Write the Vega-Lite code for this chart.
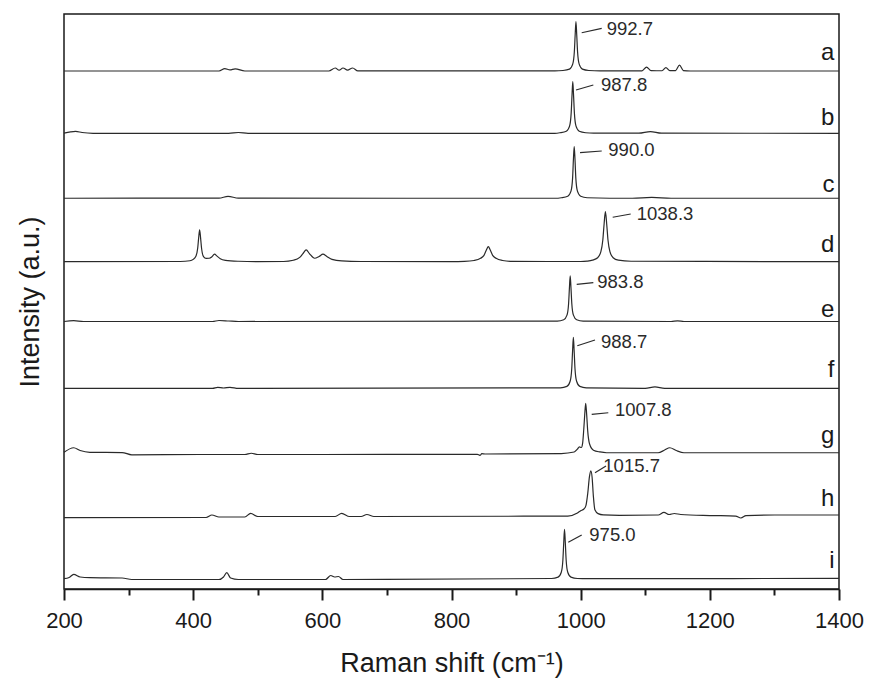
{
  "$schema": "https://vega.github.io/schema/vega-lite/v6.json",
  "width": 775,
  "height": 575,
  "autosize": "none",
  "padding": {"left": 64, "top": 14, "right": 30, "bottom": 93},
  "background": "white",
  "config": {
    "view": {"stroke": "#1a1a1a", "strokeWidth": 1.5},
    "font": "Liberation Sans"
  },
  "datasets": {
    "spectra": [
      {"sample":"a","shift":200,"intensity":10.8},{"sample":"a","shift":440,"intensity":10.8},{"sample":"a","shift":449,"intensity":14.5},{"sample":"a","shift":457,"intensity":12.5},{"sample":"a","shift":465,"intensity":14.2},{"sample":"a","shift":480,"intensity":10.8},{"sample":"a","shift":610,"intensity":10.8},{"sample":"a","shift":620,"intensity":15.5},{"sample":"a","shift":626,"intensity":12},{"sample":"a","shift":632,"intensity":15.5},{"sample":"a","shift":639,"intensity":12},{"sample":"a","shift":647,"intensity":15.5},{"sample":"a","shift":655,"intensity":11},{"sample":"a","shift":960,"intensity":11},{"sample":"a","shift":972.7,"intensity":11.6},{"sample":"a","shift":982.7,"intensity":13.7},{"sample":"a","shift":987.7,"intensity":21.5},{"sample":"a","shift":990.2,"intensity":40.9},{"sample":"a","shift":991.5,"intensity":67.5},{"sample":"a","shift":992.7,"intensity":88},{"sample":"a","shift":993.9,"intensity":67.5},{"sample":"a","shift":995.2,"intensity":40.9},{"sample":"a","shift":997.7,"intensity":21.5},{"sample":"a","shift":1002.7,"intensity":13.7},{"sample":"a","shift":1012.7,"intensity":11.6},{"sample":"a","shift":1030,"intensity":11},{"sample":"a","shift":1095,"intensity":11},{"sample":"a","shift":1102,"intensity":17},{"sample":"a","shift":1109,"intensity":11.5},{"sample":"a","shift":1126,"intensity":11.2},{"sample":"a","shift":1132,"intensity":16},{"sample":"a","shift":1138,"intensity":11.3},{"sample":"a","shift":1147,"intensity":11.5},{"sample":"a","shift":1153,"intensity":20},{"sample":"a","shift":1159,"intensity":11.5},{"sample":"a","shift":1170,"intensity":10.8},{"sample":"a","shift":1400,"intensity":10.8},
      {"sample":"b","shift":200,"intensity":13.5},{"sample":"b","shift":210,"intensity":15.5},{"sample":"b","shift":218,"intensity":16.3},{"sample":"b","shift":228,"intensity":14.5},{"sample":"b","shift":245,"intensity":13.3},{"sample":"b","shift":455,"intensity":13.3},{"sample":"b","shift":470,"intensity":14.5},{"sample":"b","shift":485,"intensity":13.3},{"sample":"b","shift":960,"intensity":13.3},{"sample":"b","shift":967.8,"intensity":14.1},{"sample":"b","shift":977.8,"intensity":16.4},{"sample":"b","shift":982.8,"intensity":24.4},{"sample":"b","shift":985.3,"intensity":44.8},{"sample":"b","shift":986.6,"intensity":72.6},{"sample":"b","shift":987.8,"intensity":94},{"sample":"b","shift":989,"intensity":72.6},{"sample":"b","shift":990.3,"intensity":44.8},{"sample":"b","shift":992.8,"intensity":24.4},{"sample":"b","shift":997.8,"intensity":16.4},{"sample":"b","shift":1007.8,"intensity":14.1},{"sample":"b","shift":1020,"intensity":13.5},{"sample":"b","shift":1090,"intensity":13.4},{"sample":"b","shift":1108,"intensity":16},{"sample":"b","shift":1125,"intensity":13.4},{"sample":"b","shift":1400,"intensity":13.3},
      {"sample":"c","shift":200,"intensity":11.6},{"sample":"c","shift":440,"intensity":11.8},{"sample":"c","shift":454,"intensity":14.5},{"sample":"c","shift":470,"intensity":11.8},{"sample":"c","shift":960,"intensity":11.6},{"sample":"c","shift":970,"intensity":12.4},{"sample":"c","shift":980,"intensity":14.7},{"sample":"c","shift":985,"intensity":22.7},{"sample":"c","shift":987.5,"intensity":43.1},{"sample":"c","shift":988.8,"intensity":72.9},{"sample":"c","shift":990,"intensity":92.3},{"sample":"c","shift":991.2,"intensity":72.9},{"sample":"c","shift":992.5,"intensity":43.1},{"sample":"c","shift":995,"intensity":22.7},{"sample":"c","shift":1000,"intensity":14.7},{"sample":"c","shift":1010,"intensity":12.4},{"sample":"c","shift":1080,"intensity":11.6},{"sample":"c","shift":1110,"intensity":13},{"sample":"c","shift":1140,"intensity":11.6},{"sample":"c","shift":1400,"intensity":11.6},
      {"sample":"d","shift":200,"intensity":12.4},{"sample":"d","shift":380,"intensity":12.6},{"sample":"d","shift":395,"intensity":13.8},{"sample":"d","shift":400,"intensity":15.9},{"sample":"d","shift":404,"intensity":20.3},{"sample":"d","shift":407,"intensity":33.3},{"sample":"d","shift":408.5,"intensity":49.5},{"sample":"d","shift":410,"intensity":62},{"sample":"d","shift":411.5,"intensity":49.5},{"sample":"d","shift":413,"intensity":33.3},{"sample":"d","shift":416,"intensity":20.3},{"sample":"d","shift":420,"intensity":17.5},{"sample":"d","shift":425,"intensity":17.7},{"sample":"d","shift":429,"intensity":20},{"sample":"d","shift":433,"intensity":24},{"sample":"d","shift":437,"intensity":21},{"sample":"d","shift":442,"intensity":17},{"sample":"d","shift":450,"intensity":14.5},{"sample":"d","shift":470,"intensity":13},{"sample":"d","shift":500,"intensity":12.4},{"sample":"d","shift":540,"intensity":12.6},{"sample":"d","shift":555,"intensity":14.5},{"sample":"d","shift":565,"intensity":19},{"sample":"d","shift":570,"intensity":25},{"sample":"d","shift":575,"intensity":30.7},{"sample":"d","shift":580,"intensity":25},{"sample":"d","shift":588,"intensity":17.7},{"sample":"d","shift":595,"intensity":20.5},{"sample":"d","shift":601,"intensity":24},{"sample":"d","shift":607,"intensity":20.5},{"sample":"d","shift":615,"intensity":16},{"sample":"d","shift":630,"intensity":13.5},{"sample":"d","shift":660,"intensity":12.6},{"sample":"d","shift":800,"intensity":12.4},{"sample":"d","shift":820,"intensity":12.8},{"sample":"d","shift":835,"intensity":14.2},{"sample":"d","shift":845,"intensity":17.6},{"sample":"d","shift":850,"intensity":21.9},{"sample":"d","shift":854,"intensity":30.5},{"sample":"d","shift":857,"intensity":35.8},{"sample":"d","shift":860,"intensity":30.5},{"sample":"d","shift":864,"intensity":21.9},{"sample":"d","shift":869,"intensity":17.6},{"sample":"d","shift":879,"intensity":14.2},{"sample":"d","shift":894,"intensity":12.8},{"sample":"d","shift":1000,"intensity":12.6},{"sample":"d","shift":1010,"intensity":13.2},{"sample":"d","shift":1018.3,"intensity":14.7},{"sample":"d","shift":1026.3,"intensity":18.5},{"sample":"d","shift":1031.3,"intensity":28},{"sample":"d","shift":1034.3,"intensity":46.3},{"sample":"d","shift":1036.3,"intensity":71.4},{"sample":"d","shift":1038.3,"intensity":90.6},{"sample":"d","shift":1040.3,"intensity":71.4},{"sample":"d","shift":1042.3,"intensity":46.3},{"sample":"d","shift":1045.3,"intensity":28},{"sample":"d","shift":1050.3,"intensity":18.5},{"sample":"d","shift":1058.3,"intensity":14.7},{"sample":"d","shift":1078,"intensity":13},{"sample":"d","shift":1400,"intensity":12.4},
      {"sample":"e","shift":200,"intensity":18.7},{"sample":"e","shift":215,"intensity":20},{"sample":"e","shift":230,"intensity":18.7},{"sample":"e","shift":430,"intensity":18.7},{"sample":"e","shift":440,"intensity":20.3},{"sample":"e","shift":455,"intensity":19.5},{"sample":"e","shift":470,"intensity":18.7},{"sample":"e","shift":963.8,"intensity":19.4},{"sample":"e","shift":973.8,"intensity":21.4},{"sample":"e","shift":978.8,"intensity":28.6},{"sample":"e","shift":981.3,"intensity":46.6},{"sample":"e","shift":982.6,"intensity":71.3},{"sample":"e","shift":983.8,"intensity":90.3},{"sample":"e","shift":985,"intensity":71.3},{"sample":"e","shift":986.3,"intensity":46.6},{"sample":"e","shift":988.8,"intensity":28.6},{"sample":"e","shift":993.8,"intensity":21.4},{"sample":"e","shift":1003.8,"intensity":19.4},{"sample":"e","shift":1140,"intensity":18.7},{"sample":"e","shift":1150,"intensity":19.7},{"sample":"e","shift":1160,"intensity":18.7},{"sample":"e","shift":1400,"intensity":18.7},
      {"sample":"f","shift":200,"intensity":14.1},{"sample":"f","shift":430,"intensity":14.1},{"sample":"f","shift":438,"intensity":15.7},{"sample":"f","shift":447,"intensity":14.6},{"sample":"f","shift":457,"intensity":15.7},{"sample":"f","shift":470,"intensity":14.1},{"sample":"f","shift":968.7,"intensity":14.9},{"sample":"f","shift":978.7,"intensity":17.1},{"sample":"f","shift":983.7,"intensity":25.1},{"sample":"f","shift":986.2,"intensity":45.2},{"sample":"f","shift":987.5,"intensity":72.8},{"sample":"f","shift":988.7,"intensity":93.9},{"sample":"f","shift":989.9,"intensity":72.8},{"sample":"f","shift":991.2,"intensity":45.2},{"sample":"f","shift":993.7,"intensity":25.1},{"sample":"f","shift":998.7,"intensity":17.1},{"sample":"f","shift":1008.7,"intensity":14.9},{"sample":"f","shift":1100,"intensity":14.1},{"sample":"f","shift":1115,"intensity":16.5},{"sample":"f","shift":1130,"intensity":14.1},{"sample":"f","shift":1400,"intensity":14.1},
      {"sample":"g","shift":200,"intensity":13.9},{"sample":"g","shift":215,"intensity":21.1},{"sample":"g","shift":225,"intensity":16.7},{"sample":"g","shift":240,"intensity":13.9},{"sample":"g","shift":290,"intensity":13.6},{"sample":"g","shift":305,"intensity":10},{"sample":"g","shift":410,"intensity":10.5},{"sample":"g","shift":480,"intensity":10.5},{"sample":"g","shift":490,"intensity":12.5},{"sample":"g","shift":500,"intensity":10.5},{"sample":"g","shift":600,"intensity":10.5},{"sample":"g","shift":800,"intensity":10.8},{"sample":"g","shift":840,"intensity":10.8},{"sample":"g","shift":844,"intensity":9.2},{"sample":"g","shift":847,"intensity":11.8},{"sample":"g","shift":852,"intensity":11.3},{"sample":"g","shift":970,"intensity":12},{"sample":"g","shift":990,"intensity":14.4},{"sample":"g","shift":995,"intensity":19},{"sample":"g","shift":998,"intensity":22.5},{"sample":"g","shift":1001,"intensity":21.5},{"sample":"g","shift":1003,"intensity":28},{"sample":"g","shift":1004.8,"intensity":50},{"sample":"g","shift":1006.3,"intensity":73},{"sample":"g","shift":1007.8,"intensity":90.6},{"sample":"g","shift":1009.3,"intensity":73},{"sample":"g","shift":1010.8,"intensity":48.7},{"sample":"g","shift":1013.8,"intensity":27},{"sample":"g","shift":1019.8,"intensity":17.3},{"sample":"g","shift":1030,"intensity":14.5},{"sample":"g","shift":1040,"intensity":13.3},{"sample":"g","shift":1120,"intensity":13.3},{"sample":"g","shift":1130,"intensity":17.5},{"sample":"g","shift":1138,"intensity":21.1},{"sample":"g","shift":1148,"intensity":16.7},{"sample":"g","shift":1160,"intensity":13.3},{"sample":"g","shift":1400,"intensity":13.3},
      {"sample":"h","shift":200,"intensity":11.6},{"sample":"h","shift":420,"intensity":11.9},{"sample":"h","shift":429,"intensity":15.8},{"sample":"h","shift":440,"intensity":12.7},{"sample":"h","shift":480,"intensity":12.7},{"sample":"h","shift":489,"intensity":18.5},{"sample":"h","shift":500,"intensity":13.5},{"sample":"h","shift":620,"intensity":13.5},{"sample":"h","shift":630,"intensity":18.5},{"sample":"h","shift":642,"intensity":13.5},{"sample":"h","shift":660,"intensity":13.5},{"sample":"h","shift":669,"intensity":16.6},{"sample":"h","shift":680,"intensity":13.5},{"sample":"h","shift":980,"intensity":14.2},{"sample":"h","shift":995,"intensity":19},{"sample":"h","shift":1000,"intensity":22.5},{"sample":"h","shift":1005,"intensity":25.2},{"sample":"h","shift":1008,"intensity":30},{"sample":"h","shift":1011,"intensity":50},{"sample":"h","shift":1013.5,"intensity":75},{"sample":"h","shift":1015.7,"intensity":85.1},{"sample":"h","shift":1017.7,"intensity":75},{"sample":"h","shift":1019.7,"intensity":45},{"sample":"h","shift":1022,"intensity":24},{"sample":"h","shift":1027,"intensity":18},{"sample":"h","shift":1035,"intensity":16},{"sample":"h","shift":1060,"intensity":15.3},{"sample":"h","shift":1120,"intensity":15.8},{"sample":"h","shift":1129,"intensity":20},{"sample":"h","shift":1137,"intensity":16.6},{"sample":"h","shift":1145,"intensity":18.2},{"sample":"h","shift":1155,"intensity":16.6},{"sample":"h","shift":1200,"intensity":15},{"sample":"h","shift":1240,"intensity":14.2},{"sample":"h","shift":1248,"intensity":11.1},{"sample":"h","shift":1256,"intensity":15},{"sample":"h","shift":1300,"intensity":15.8},{"sample":"h","shift":1400,"intensity":15.8},
      {"sample":"i","shift":200,"intensity":16.1},{"sample":"i","shift":208,"intensity":18},{"sample":"i","shift":215,"intensity":23},{"sample":"i","shift":225,"intensity":18.8},{"sample":"i","shift":240,"intensity":17.7},{"sample":"i","shift":290,"intensity":17.2},{"sample":"i","shift":305,"intensity":14.9},{"sample":"i","shift":440,"intensity":14.9},{"sample":"i","shift":447,"intensity":18.8},{"sample":"i","shift":452,"intensity":25.5},{"sample":"i","shift":458,"intensity":17.2},{"sample":"i","shift":470,"intensity":14.9},{"sample":"i","shift":605,"intensity":14.9},{"sample":"i","shift":613,"intensity":21.1},{"sample":"i","shift":619,"intensity":18.8},{"sample":"i","shift":625,"intensity":19.6},{"sample":"i","shift":632,"intensity":14.9},{"sample":"i","shift":955,"intensity":16.4},{"sample":"i","shift":965,"intensity":18.6},{"sample":"i","shift":970,"intensity":26.3},{"sample":"i","shift":972.5,"intensity":45.9},{"sample":"i","shift":973.8,"intensity":72.8},{"sample":"i","shift":975,"intensity":93.4},{"sample":"i","shift":976.2,"intensity":72.8},{"sample":"i","shift":977.5,"intensity":45.9},{"sample":"i","shift":980,"intensity":26.3},{"sample":"i","shift":985,"intensity":18.6},{"sample":"i","shift":995,"intensity":16.4},{"sample":"i","shift":1010,"intensity":16.1},{"sample":"i","shift":1400,"intensity":16.7}
    ],
    "peaks": [
      {"sample":"a","label":"992.7","shift":1040.3,"level":76.1},
      {"sample":"b","label":"987.8","shift":1031.5,"level":88.9},
      {"sample":"c","label":"990.0","shift":1042.8,"level":87.2},
      {"sample":"d","label":"1038.3","shift":1086.8,"level":87},
      {"sample":"e","label":"983.8","shift":1025.7,"level":80.9},
      {"sample":"f","label":"988.7","shift":1031.5,"level":87},
      {"sample":"g","label":"1007.8","shift":1053.2,"level":80.1},
      {"sample":"h","label":"1015.7","shift":1035.1,"level":93},
      {"sample":"i","label":"975.0","shift":1013.4,"level":84.5}
    ],
    "leaders": [
      {"sample":"a","shift":1001.6,"level":70.7},{"sample":"a","shift":1032.6,"level":77.6},
      {"sample":"b","shift":992.8,"level":81.1},{"sample":"b","shift":1019.6,"level":88.9},
      {"sample":"c","shift":999,"level":83},{"sample":"c","shift":1032.6,"level":85.6},
      {"sample":"d","shift":1049.6,"level":81.9},{"sample":"d","shift":1077.5,"level":87},
      {"sample":"e","shift":993.9,"level":76.9},{"sample":"e","shift":1019.6,"level":79.4},
      {"sample":"f","shift":994.8,"level":80.8},{"sample":"f","shift":1022.2,"level":89.7},
      {"sample":"g","shift":1017.1,"level":73.4},{"sample":"g","shift":1042.8,"level":75.9},
      {"sample":"h","shift":1022.2,"level":82},{"sample":"h","shift":1039.2,"level":92.5},
      {"sample":"i","shift":980.8,"level":73.1},{"sample":"i","shift":1001.6,"level":84.5}
    ],
    "letters": [
      {"sample":"a","level":28},{"sample":"b","level":26.3},{"sample":"c","level":21.9},
      {"sample":"d","level":28},{"sample":"e","level":26.1},{"sample":"f","level":32.2},
      {"sample":"g","level":28.5},{"sample":"h","level":29.9},{"sample":"i","level":32.4}
    ]
  },
  "layer": [
    {
      "data": {"name": "spectra"},
      "mark": {"type": "line", "color": "#2a2a2a", "strokeWidth": 1.2, "interpolate": "monotone"},
      "encoding": {
        "x": {
          "field": "shift", "type": "quantitative",
          "scale": {"domain": [200, 1400], "nice": false, "zero": false},
          "axis": {
            "values": [200, 300, 400, 500, 600, 700, 800, 900, 1000, 1100, 1200, 1300, 1400],
            "format": "d",
            "labelExpr": "datum.value % 200 === 0 ? datum.label : ''",
            "tickSize": {"condition": {"test": "datum.value % 200 === 0", "value": 11}, "value": 6},
            "tickColor": "#1a1a1a", "tickWidth": 2,
            "domainColor": "#1a1a1a", "domainWidth": 1.5,
            "grid": false,
            "labelFontSize": 22, "labelColor": "#1a1a1a", "labelPadding": 10, "labelFlush": false,
            "title": "Raman shift (cm⁻¹)", "titleFontSize": 27, "titleFontWeight": "normal",
            "titleColor": "#1a1a1a", "titlePadding": 19
          }
        },
        "y": {
          "field": "sample", "type": "nominal",
          "scale": {"type": "band", "domain": ["a","b","c","d","e","f","g","h","i"], "paddingInner": 0, "paddingOuter": 0},
          "axis": {
            "labels": false, "ticks": false, "domain": false, "grid": false,
            "title": "Intensity (a.u.)", "titleFontSize": 27, "titleFontWeight": "normal",
            "titleColor": "#1a1a1a", "titlePadding": 20
          }
        },
        "yOffset": {
          "field": "intensity", "type": "quantitative",
          "scale": {"domain": [0, 100], "reverse": true, "zero": true, "nice": false}
        },
        "detail": {"field": "sample"},
        "order": {"field": "shift"}
      }
    },
    {
      "data": {"name": "leaders"},
      "mark": {"type": "line", "color": "#2a2a2a", "strokeWidth": 1.2},
      "encoding": {
        "x": {"field": "shift", "type": "quantitative"},
        "y": {"field": "sample", "type": "nominal"},
        "yOffset": {"field": "level", "type": "quantitative"},
        "detail": {"field": "sample"}
      }
    },
    {
      "data": {"name": "peaks"},
      "mark": {"type": "text", "align": "left", "baseline": "middle", "fontSize": 18.5, "color": "#2a2a2a"},
      "encoding": {
        "x": {"field": "shift", "type": "quantitative"},
        "y": {"field": "sample", "type": "nominal"},
        "yOffset": {"field": "level", "type": "quantitative"},
        "text": {"field": "label"}
      }
    },
    {
      "data": {"name": "letters"},
      "mark": {"type": "text", "align": "right", "baseline": "alphabetic", "fontSize": 24, "color": "#1a1a1a"},
      "encoding": {
        "x": {"datum": 1393, "type": "quantitative"},
        "y": {"field": "sample", "type": "nominal"},
        "yOffset": {"field": "level", "type": "quantitative"},
        "text": {"field": "sample"}
      }
    }
  ]
}
